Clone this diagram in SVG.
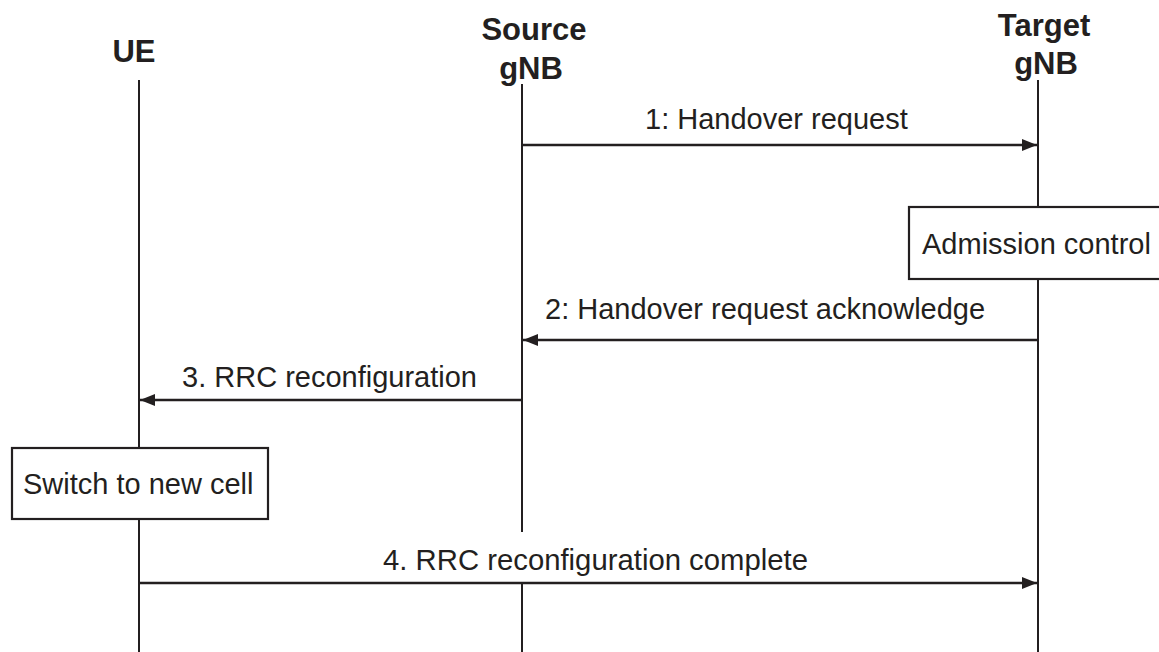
<svg xmlns="http://www.w3.org/2000/svg" width="1159" height="652" viewBox="0 0 1159 652">
<defs>
<style>
.hdr{font-family:"Liberation Sans",Arial,sans-serif;font-weight:bold;font-size:31px;fill:#231f20}
.lbl{font-family:"Liberation Sans",Arial,sans-serif;font-size:29px;fill:#231f20}
.life{stroke:#231f20;stroke-width:2;fill:none}
.msg{stroke:#231f20;stroke-width:2.4;fill:none}
.box{stroke:#231f20;stroke-width:2.2;fill:#fff}
</style>
<marker id="ah" viewBox="0 0 15 12" refX="15" refY="6" markerWidth="15" markerHeight="12" markerUnits="userSpaceOnUse" orient="auto">
<path d="M0,0 L15,6 L0,12 Z" fill="#231f20"/>
</marker>
</defs>
<rect width="1159" height="652" fill="#fff"/>
<g id="ue">
<text class="hdr" x="134" y="62" text-anchor="middle">UE</text>
<line class="life" x1="139" y1="80" x2="139" y2="652"/>
</g>
<g id="source-gnb">
<text class="hdr" x="534" y="40" text-anchor="middle">Source</text>
<text class="hdr" x="531" y="79" text-anchor="middle">gNB</text>
<line class="life" x1="522" y1="84" x2="522" y2="532"/>
<line class="life" x1="522" y1="582" x2="522" y2="652"/>
</g>
<g id="target-gnb">
<text class="hdr" x="1044" y="36" text-anchor="middle">Target</text>
<text class="hdr" x="1046" y="74" text-anchor="middle">gNB</text>
<line class="life" x1="1038" y1="80" x2="1038" y2="207"/>
<line class="life" x1="1038" y1="279" x2="1038" y2="652"/>
</g>
<g id="admission-control">
<rect class="box" x="909" y="207" width="270" height="72"/>
<text class="lbl" x="922" y="254">Admission control</text>
</g>
<g id="switch-cell">
<rect class="box" x="12" y="448" width="256" height="71"/>
<text class="lbl" x="23" y="494">Switch to new cell</text>
</g>
<g id="connectors">
<line class="msg" x1="522" y1="145" x2="1037" y2="145" marker-end="url(#ah)"/>
<text class="lbl" x="645" y="129">1: Handover request</text>
<line class="msg" x1="1038" y1="340" x2="523" y2="340" marker-end="url(#ah)"/>
<text class="lbl" x="545" y="319">2: Handover request acknowledge</text>
<line class="msg" x1="522" y1="400" x2="140" y2="400" marker-end="url(#ah)"/>
<text class="lbl" x="182" y="387">3. RRC reconfiguration</text>
<line class="msg" x1="139" y1="583" x2="1037" y2="583" marker-end="url(#ah)"/>
<text class="lbl" x="383" y="570" textLength="425" lengthAdjust="spacingAndGlyphs">4. RRC reconfiguration complete</text>
</g>
</svg>
